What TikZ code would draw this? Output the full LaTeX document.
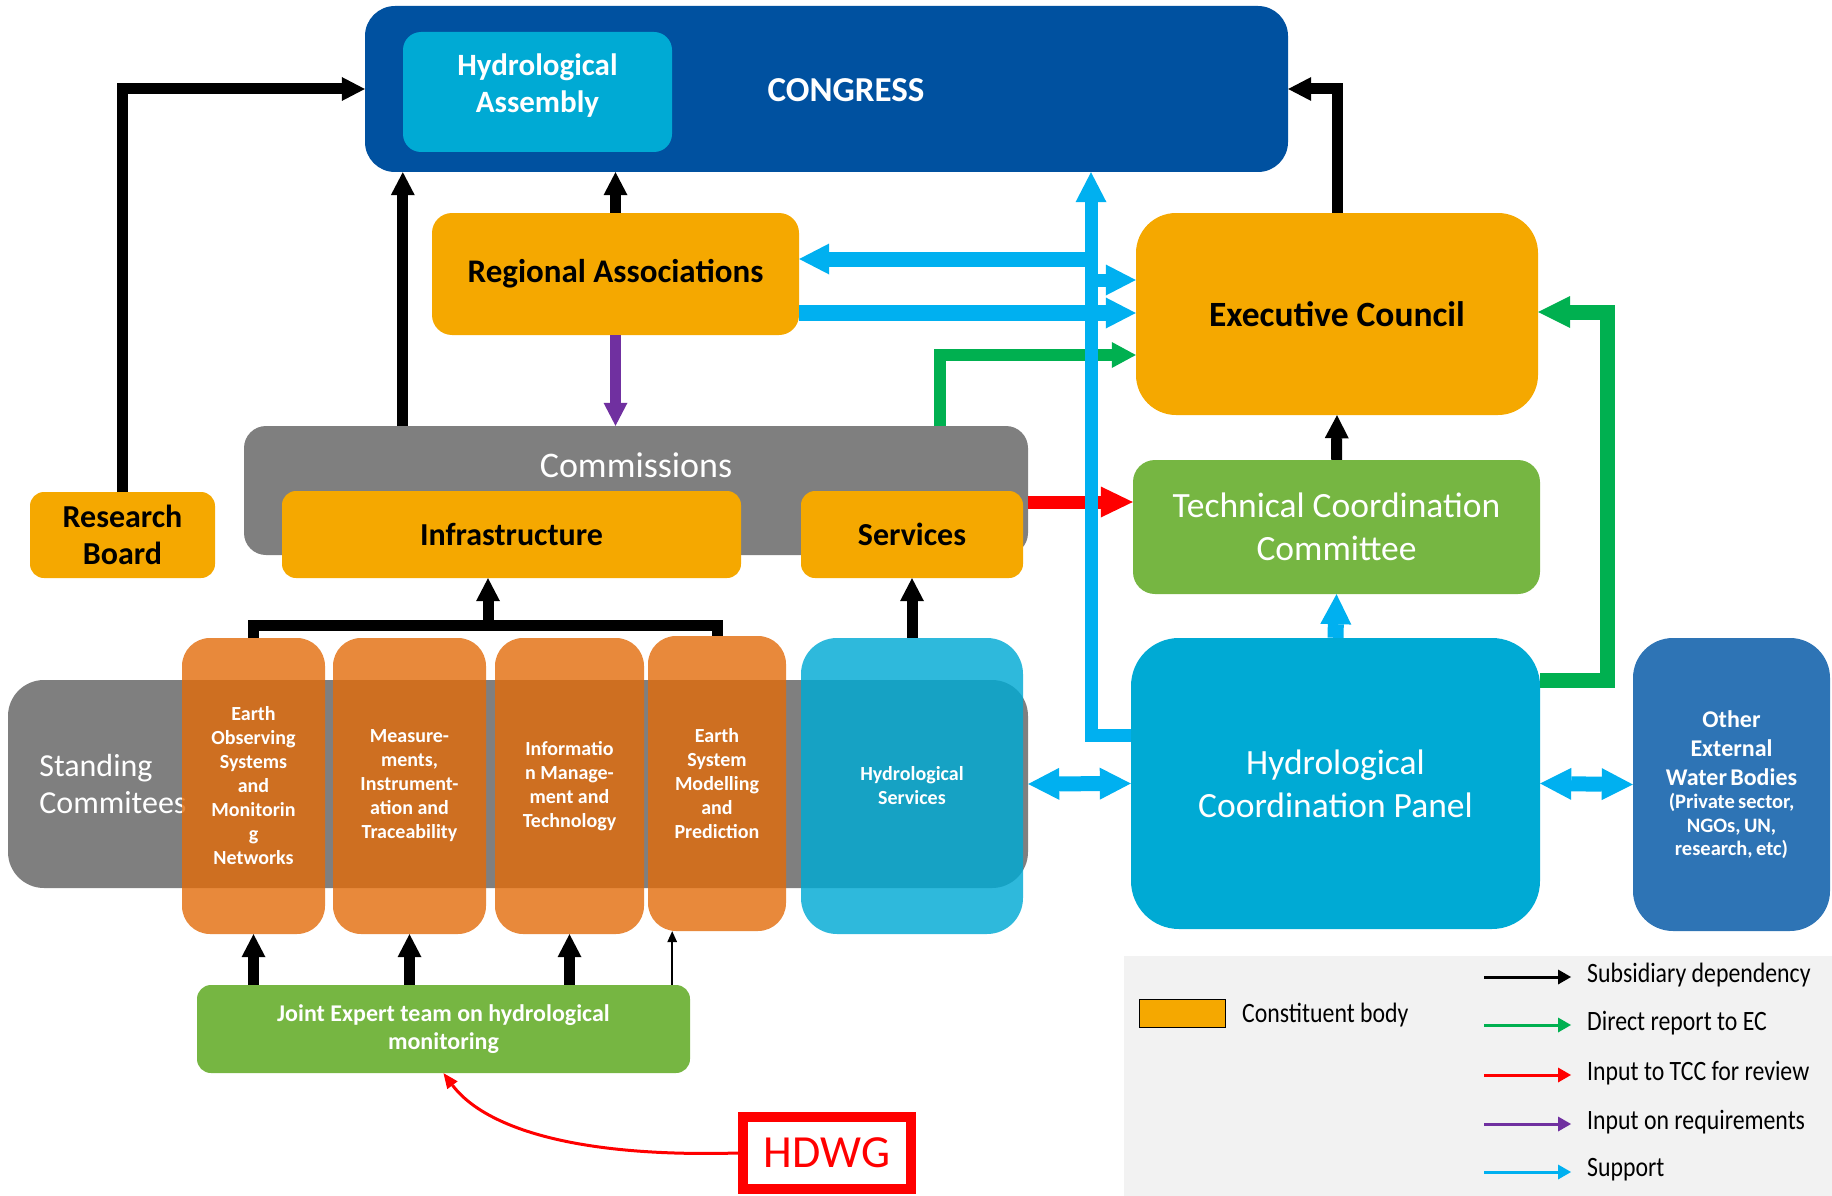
\documentclass[tikz,border=0pt]{standalone}
\usepackage{fontspec}
\usepackage{graphicx}
\usepackage{tikz}
\usetikzlibrary{arrows.meta}
\setmainfont{Carlito}
\definecolor{congressblue}{HTML}{0051A0}
\definecolor{hydrocyan}{HTML}{00AAD4}
\definecolor{bodyorange}{HTML}{F5A800}
\definecolor{panelgreen}{HTML}{76B642}
\definecolor{commgray}{HTML}{7F7F7F}
\definecolor{extblue}{HTML}{2E74B5}
\definecolor{columnorange}{RGB}{226,108,10}
\definecolor{supportblue}{HTML}{00B0F0}
\definecolor{reportgreen}{HTML}{00B050}
\definecolor{reviewred}{HTML}{FF0000}
\definecolor{reqpurple}{HTML}{7030A0}
\definecolor{legendgray}{HTML}{F2F2F2}
\newcommand{\fsz}[2]{\fontsize{#1}{#2}\selectfont}
\newcommand{\legtxt}[1]{\scalebox{0.85}[1]{#1}}

\tikzset{
  box/.style={rectangle, inner sep=0pt, align=center, text=white},
  body/.style={box, fill=bodyorange, text=black, font=\fsz{32}{37}\bfseries},
  column/.style={box, fill=columnorange, fill opacity=0.8, text opacity=1,
    minimum height=296pt, rounded corners=28pt, font=\fsz{20}{24}\bfseries},
  subdep/.style={draw=black, line width=11pt,
    -{Triangle[length=23pt,width=24pt,line width=0pt]}},
  subthin/.style={draw=black, line width=2.5pt,
    -{Triangle[length=11pt,width=10pt,line width=0pt]}},
  report/.style={draw=reportgreen, line width=12pt,
    -{Triangle[length=24pt,width=26pt,line width=0pt]}},
  reportbig/.style={draw=reportgreen, line width=15pt,
    -{Triangle[length=32pt,width=32pt,line width=0pt]}},
  review/.style={draw=reviewred, line width=13pt,
    -{Triangle[length=32pt,width=31pt,line width=0pt]}},
  reqs/.style={draw=reqpurple, line width=11pt,
    -{Triangle[length=23pt,width=24pt,line width=0pt]}},
  support/.style={draw=supportblue, line width=13pt,
    -{Triangle[length=30pt,width=31pt,line width=0pt]}},
  supportboth/.style={draw=supportblue, line width=15pt,
    {Triangle[length=31pt,width=32pt,line width=0pt]}-{Triangle[length=31pt,width=32pt,line width=0pt]}},
  legarrow/.style={line width=3pt, -{Triangle[length=13pt,width=15pt,line width=0pt]}},
  legtext/.style={anchor=west, inner sep=0pt, font=\fsz{28}{32}}
}

\begin{document}
\begin{tikzpicture}[x=1pt, y=-1pt]
  \useasboundingbox (0,0) rectangle (1832,1196);

  % top level
  \node[box, fill=congressblue, minimum width=923pt, minimum height=166pt,
    rounded corners=30pt] (congress) at (826.5,89) {};
  \node[box, fill=hydrocyan, minimum width=269pt, minimum height=120pt,
    rounded corners=18pt] (hassembly) at (537.5,92) {};
  \node[text=white, align=center, font=\fsz{31}{37}\bfseries] (hassemblylbl) at (537.5,86)
    {Hydrological\\Assembly};
  \node[text=white, font=\fsz{35}{40}\bfseries] (congresslbl) at (846,90) {CONGRESS};

  \node[body, minimum width=367pt, minimum height=122pt, rounded corners=20pt,
    font=\fsz{33}{38}\bfseries] (regassoc) at (615.5,274) {Regional Associations};
  \node[body, minimum width=402pt, minimum height=202pt, rounded corners=40pt,
    font=\fsz{35.5}{40}\bfseries] (execcouncil) at (1337,314) {Executive Council};
  \node[box, fill=panelgreen, minimum width=407pt, minimum height=134pt,
    rounded corners=22pt, font=\fsz{35.5}{43}] (tcc) at (1336.5,527)
    {Technical Coordination\\Committee};
  \node[box, fill=hydrocyan, minimum width=409pt, minimum height=291pt,
    rounded corners=48pt, font=\fsz{35.5}{43}] (hcp) at (1335.5,783.5)
    {Hydrological\\Coordination Panel};
  \node[box, fill=extblue, minimum width=197pt, minimum height=293pt,
    rounded corners=40pt, text width=190pt, font=\bfseries] (otherbodies) at (1731.5,784.5)
    {{\fsz{24}{29}Other\\External\\Water Bodies\par}
     {\fsz{20.5}{23.5}(Private sector,\\NGOs, UN,\\research, etc)\par}};

  % commissions
  \node[box, fill=commgray, minimum width=784pt, minimum height=129pt,
    rounded corners=22pt,
    label={[anchor=center, yshift=-39pt, text=white, font=\fsz{36}{40}]north:Commissions}]
    (commissions) at (636,490.5) {};
  \node[body, minimum width=459pt, minimum height=87pt, rounded corners=14pt]
    (infra) at (511.5,534.5) {Infrastructure};
  \node[body, minimum width=222pt, minimum height=87pt, rounded corners=14pt]
    (services) at (912,534.5) {Services};
  \node[body, minimum width=185pt, minimum height=86pt, rounded corners=14pt]
    (resboard) at (122.5,535) {Research\\Board};

  % standing committees
  \node[box, fill=commgray, minimum width=1020pt, minimum height=208pt,
    rounded corners=36pt,
    label={[anchor=west, xshift=28pt, align=left, text=white, font=\fsz{32}{37}]west:Standing\\Commitees}]
    (standing) at (518,784) {};
  \node[column, minimum width=143pt] (eos) at (253.5,786)
    {Earth\\Observing\\Systems\\and\\Monitorin\\g\\Networks};
  \node[column, minimum width=153pt] (mit) at (409.5,786)
    {Measure-\\ments,\\Instrument-\\ation and\\Traceability};
  \node[column, minimum width=149pt] (imt) at (569.5,786)
    {Informatio\\n Manage-\\ment and\\Technology};
  \node[column, minimum width=138pt, minimum height=295pt] (esmp) at (717,783.5)
    {Earth\\System\\Modelling\\and\\Prediction};
  \node[column, fill=hydrocyan, fill opacity=0.82, minimum width=222pt,
    rounded corners=36pt] (hydserv) at (912,786) {Hydrological\\Services};

  \node[box, fill=panelgreen, minimum width=493pt, minimum height=88pt,
    rounded corners=14pt, font=\fsz{24}{28}\bfseries] (jet) at (443.5,1029)
    {Joint Expert team on hydrological\\monitoring};
  \node[box, draw=reviewred, line width=10pt, fill=white, text=reviewred,
    minimum width=168pt, minimum height=72pt, font=\fsz{46}{50}] (hdwg) at (827,1153) {HDWG};

  % bends
  \coordinate (bracketmid) at (488,625);
  \coordinate (reportbend) at (940,355);
  \coordinate (panelbend) at (1607,312);
  \coordinate (spinebase) at (1091,735);
  \coordinate (reviewin) at ([yshift=25pt]tcc.west);
  \coordinate (raback) at ([yshift=15pt]regassoc.east);
  \coordinate (raout) at ([yshift=-39pt]regassoc.east);
  \coordinate (ecsup) at ([yshift=34pt]execcouncil.west);

  % subsidiary dependency
  \draw[subdep] (resboard.north) |- (congress.west);
  \draw[subdep] (hassembly.west |- commissions.north) -- (hassembly.west |- congress.south);
  \draw[subdep] (regassoc.north) -- (regassoc.north |- congress.south);
  \draw[subdep] (execcouncil.north) |- (congress.east);
  \draw[subdep] (tcc.north) -- (execcouncil.south);
  \draw[subdep] (hydserv.north) -- (services.south);
  \draw[line width=11pt] (eos.north) |- (bracketmid) -| (esmp.north);
  \draw[subdep] (bracketmid) -- (bracketmid |- infra.south);
  \foreach \col in {eos,mit,imt}
    \draw[subdep] (jet.north -| \col.south) -- (\col.south);
  \draw[subthin] ([xshift=-18pt]jet.north east) -- ([xshift=-18pt]jet.north east |- esmp.south);

  % requirements, reports, review
  \draw[reqs] (regassoc.south) -- (regassoc.south |- commissions.north);
  \draw[report] (commissions.north -| reportbend) -- (reportbend) -- (reportbend -| execcouncil.west);
  \draw[reportbig] ([yshift=103pt]hcp.east) -| (panelbend) -- (panelbend -| execcouncil.east);
  \draw[review] (reviewin -| commissions.east) -- (reviewin);
  \draw[draw=reviewred, line width=3pt, -{Triangle[length=15pt,width=13pt,line width=0pt]}]
    (hdwg.west) .. controls (560,1158) and (480,1122) .. (jet.south);

  % support
  \draw[support] (spinebase -| hcp.west) -- (spinebase) -- (spinebase |- congress.south);
  \draw[support, line width=15pt] (raback -| spinebase) -- (raback);
  \draw[support] (ecsup -| spinebase) -- (ecsup);
  \draw[support, line width=16pt] (raout) -- (raout -| execcouncil.west);
  \draw[support, line width=16pt] (hcp.north) -- (tcc.south);
  \draw[supportboth] (standing.east) -- (hcp.west);
  \draw[supportboth] (hcp.east) -- (otherbodies.west);

  % legend
  \fill[legendgray] (1124,956) rectangle (1832,1196);
  \node[draw=black, line width=1.5pt, fill=bodyorange, minimum width=86pt,
    minimum height=28pt, inner sep=0pt] (constbox) at (1182.5,1013.5) {};
  \node[legtext] (constlbl) at (1242,1015) {\legtxt{Constituent body}};
  \foreach \y/\clr/\txt in {975/black/Subsidiary dependency,
      1023/reportgreen/Direct report to EC,
      1073/reviewred/Input to TCC for review,
      1122/reqpurple/Input on requirements,
      1170/supportblue/Support} {
    \node[legtext] (leg\y) at (1587,\y) {\legtxt{\txt}};
    \draw[legarrow, \clr] ([xshift=-103pt,yshift=-2pt]leg\y.west) -- ([xshift=-16pt,yshift=-2pt]leg\y.west);
  }
\end{tikzpicture}
\end{document}
